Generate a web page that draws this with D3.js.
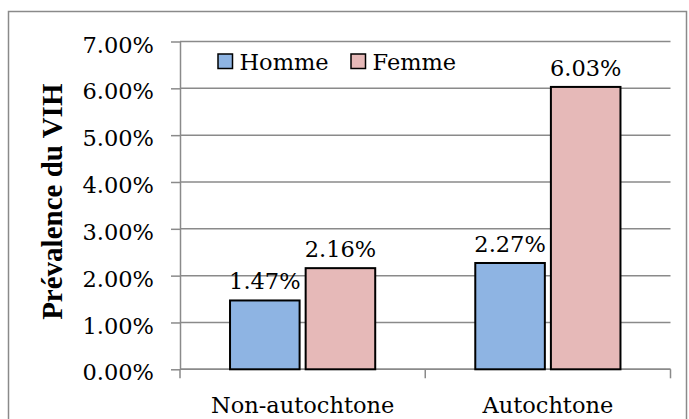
<!DOCTYPE html>
<html>
<head>
<meta charset="utf-8">
<script src="https://cdn.jsdelivr.net/npm/d3@7"></script>
<style>
  body { margin: 0; background: #fff; }
  text { font-family: "DejaVu Serif", serif; fill: #000; }
</style>
</head>
<body>
<svg id="visualization" width="689" height="419"></svg>
<script>
// data
const categories = ["Non-autochtone", "Autochtone"];
const series = ["Homme", "Femme"];
const homme = [1.47, 2.27];
const femme = [2.16, 6.03];
const yTicks = [0, 1, 2, 3, 4, 5, 6, 7];
const colors = ["#8EB4E3", "#E6B9B8"];

const svg = d3.select("#visualization");
const fmt = d => d.toFixed(2) + "%";

// outer frame
svg.append("rect")
    .attr("x", 8.5).attr("y", 11.5)
    .attr("width", 678).attr("height", 430)
    .attr("fill", "none")
    .attr("stroke", "#8a8a8a")
    .attr("stroke-width", 1.5);

const xScale = d3.scaleBand()
    .domain(categories)
    .range([180, 670.5]);

const xInner = d3.scaleBand()
    .domain(series)
    .range([xScale.bandwidth() * 0.204, xScale.bandwidth() * 0.796])
    .paddingInner(0.08);

const yScale = d3.scaleLinear()
    .domain([0, 7])
    .range([369.3, 41.5]);

// gridlines
svg.append("g").selectAll("line")
    .data(yTicks)
    .enter()
    .append("line")
    .attr("x1", 180).attr("x2", 670.5)
    .attr("y1", d => yScale(d)).attr("y2", d => yScale(d))
    .attr("stroke", "#8a8a8a")
    .attr("stroke-width", 1.5);

// y axis
const yAxis = d3.axisLeft(yScale)
    .tickValues(yTicks)
    .tickFormat(fmt)
    .tickSizeInner(9)
    .tickSizeOuter(0)
    .tickPadding(17);
const gy = svg.append("g").attr("transform", "translate(180, 0)").call(yAxis);
gy.select(".domain").attr("stroke", "#8a8a8a").attr("stroke-width", 1.5);
gy.selectAll(".tick line").attr("stroke", "#8a8a8a").attr("stroke-width", 1.5);
gy.selectAll(".tick text")
    .attr("font-family", "DejaVu Serif")
    .attr("font-size", 22.5)
    .attr("dy", "0.47em");

// x axis: line, boundary ticks, labels at centres
svg.append("line")
    .attr("x1", 180).attr("x2", 670.5)
    .attr("y1", yScale(0)).attr("y2", yScale(0))
    .attr("stroke", "#8a8a8a")
    .attr("stroke-width", 1.5);

const bounds = categories.map(c => xScale(c)).concat([xScale.range()[1]]);
svg.append("g").selectAll("line")
    .data(bounds)
    .enter()
    .append("line")
    .attr("x1", d => d).attr("x2", d => d)
    .attr("y1", yScale(0)).attr("y2", yScale(0) + 9)
    .attr("stroke", "#8a8a8a")
    .attr("stroke-width", 1.5);

svg.append("g").selectAll("text")
    .data(categories)
    .enter()
    .append("text")
    .attr("x", d => xScale(d) + xScale.bandwidth() / 2)
    .attr("y", 413)
    .attr("text-anchor", "middle")
    .attr("font-size", 22.5)
    .text(d => d);

// bars + labels, series by series
const values = [homme, femme];
series.forEach((s, i) => {
    const rows = categories.map((c, j) => ({cat: c, value: values[i][j]}));
    const g = svg.append("g");
    g.selectAll("rect")
        .data(rows)
        .enter()
        .append("rect")
        .attr("x", d => xScale(d.cat) + xInner(s))
        .attr("y", d => yScale(d.value))
        .attr("width", xInner.bandwidth())
        .attr("height", d => yScale(0) - yScale(d.value))
        .attr("fill", colors[i])
        .attr("stroke", "#000")
        .attr("stroke-width", 2);
    g.selectAll("text")
        .data(rows)
        .enter()
        .append("text")
        .attr("x", d => xScale(d.cat) + xInner(s) + xInner.bandwidth() / 2)
        .attr("y", d => yScale(d.value) - 11)
        .attr("text-anchor", "middle")
        .attr("font-size", 22.5)
        .text(d => fmt(d.value));
});

// legend
const legendX = [218, 351];
const legend = svg.append("g").selectAll("g")
    .data(series)
    .enter()
    .append("g")
    .attr("transform", (d, i) => `translate(${legendX[i]}, 54)`);
legend.append("rect")
    .attr("width", 14.5).attr("height", 14.5)
    .attr("fill", (d, i) => colors[i])
    .attr("stroke", "#000")
    .attr("stroke-width", 1.5);
legend.append("text")
    .attr("x", 21.5)
    .attr("y", 16)
    .attr("font-size", 22.5)
    .text(d => d);

// y axis title (style, so the css rule above does not override it)
svg.append("text")
    .attr("transform", "translate(62, 201.7) rotate(-90)")
    .attr("text-anchor", "middle")
    .style("font-family", "'Liberation Serif', serif")
    .style("font-weight", "bold")
    .style("font-size", "29px")
    .text("Prévalence du VIH");
</script>
</body>
</html>
